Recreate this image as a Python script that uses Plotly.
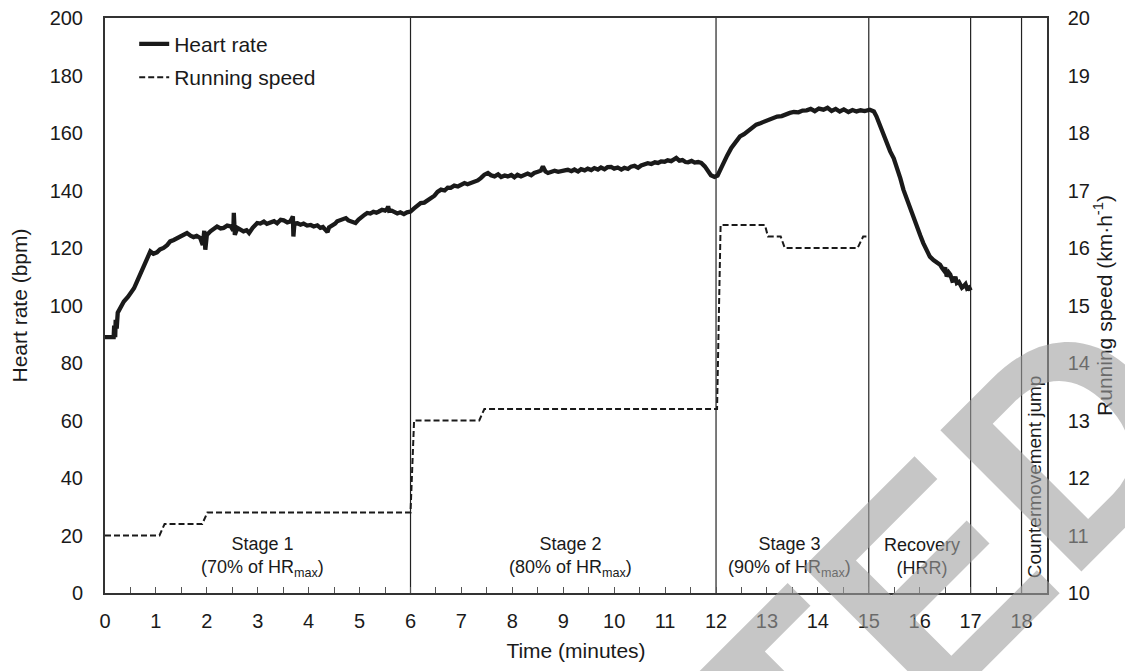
import plotly.graph_objects as go

# ---------------- data ----------------
hr_time = [0, 0.17, 0.18, 0.20, 0.21, 0.23, 0.25, 0.30, 0.37, 0.45, 0.50, 0.57, 0.63, 0.68, 0.73, 0.78,
           0.83, 0.89, 0.95, 1.02, 1.08, 1.15, 1.22, 1.28, 1.35, 1.42, 1.48, 1.55, 1.61, 1.68, 1.74, 1.80,
           1.87, 1.92, 1.95, 1.97, 2.00, 2.07, 2.13, 2.20, 2.27, 2.33, 2.40, 2.47, 2.52, 2.53, 2.55, 2.60,
           2.66, 2.72, 2.78, 2.83, 2.90, 2.99, 3.05, 3.12, 3.18, 3.25, 3.32, 3.38, 3.45, 3.51, 3.58, 3.64,
           3.69, 3.70, 3.72, 3.78, 3.84, 3.90, 3.97, 4.04, 4.10, 4.17, 4.23, 4.28, 4.33, 4.37, 4.40, 4.46,
           4.52, 4.56, 4.62, 4.68, 4.73, 4.78, 4.85, 4.92, 4.98, 5.04, 5.10, 5.15, 5.21, 5.27, 5.33, 5.38,
           5.44, 5.50, 5.55, 5.56, 5.58, 5.63, 5.68, 5.74, 5.80, 5.87, 5.93, 6.00, 6.07, 6.13, 6.20, 6.27,
           6.33, 6.40, 6.47, 6.53, 6.60, 6.67, 6.73, 6.79, 6.86, 6.93, 6.99, 7.06, 7.12, 7.19, 7.25, 7.32,
           7.38, 7.45, 7.52, 7.58, 7.65, 7.72, 7.78, 7.85, 7.91, 7.98, 8.04, 8.10, 8.17, 8.24, 8.30, 8.37,
           8.43, 8.50, 8.56, 8.60, 8.65, 8.70, 8.76, 8.83, 8.90, 8.96, 9.03, 9.09, 9.16, 9.22, 9.29, 9.35,
           9.42, 9.48, 9.55, 9.61, 9.68, 9.74, 9.81, 9.87, 9.94, 10.00, 10.07, 10.14, 10.20, 10.27, 10.33,
           10.40, 10.47, 10.53, 10.60, 10.66, 10.73, 10.80, 10.86, 10.92, 10.99, 11.05, 11.12, 11.18, 11.22,
           11.28, 11.34, 11.40, 11.45, 11.52, 11.58, 11.65, 11.71, 11.78, 11.84, 11.90, 11.97, 12.03, 12.10,
           12.16, 12.22, 12.30, 12.38, 12.47, 12.55, 12.63, 12.71, 12.79, 12.87, 12.95, 13.04, 13.12, 13.20,
           13.29, 13.37, 13.45, 13.53, 13.62, 13.70, 13.78, 13.86, 13.94, 14.02, 14.11, 14.19, 14.27, 14.35,
           14.43, 14.51, 14.60, 14.68, 14.76, 14.84, 14.92, 15.02, 15.10, 15.15, 15.22, 15.29, 15.36, 15.42,
           15.49, 15.55, 15.62, 15.68, 15.75, 15.81, 15.88, 15.94, 16.01, 16.07, 16.14, 16.20, 16.27, 16.33,
           16.40, 16.44, 16.47, 16.50, 16.53, 16.57, 16.60, 16.64, 16.67, 16.70, 16.73, 16.77, 16.80, 16.83,
           16.86, 16.90, 16.93, 16.97, 17.00]
heart_rate = [89, 89, 93, 89, 95, 92, 97.5, 99, 101.4, 103, 104.3, 106, 108.4, 110.5, 113, 115,
              117, 118.8, 118, 118.5, 119.5, 120, 121, 122.3, 122.8, 123.5, 124, 124.6, 125.2, 124.3, 123.8, 124.2,
              123.5, 121, 126, 119.4, 124.5, 125.8, 126.5, 127.5, 126.8, 127, 127.8, 127.5, 126, 132.2, 124.6, 127,
              126.4, 125.8, 126.2, 125.2, 127, 128.7, 128.5, 129.2, 128.4, 128.7, 129.3, 128.6, 129.8, 129.6, 128.9, 129.2,
              131, 124, 128.5, 128.6, 128.1, 128.5, 127.8, 128.0, 127.5, 127.9, 127.0, 127.3, 126.4, 125.5, 127.2, 127.8,
              128.5, 129.3, 129.8, 129.9, 130.4, 129.6, 129.2, 128.7, 129.9, 131, 131.6, 132.2, 132.0, 132.6, 132.3, 132.7,
              133.3, 133.0, 133.8, 134.5, 132.9, 133, 132.4, 132.0, 132.4, 131.8, 132.4, 132.7, 133.8, 134.5, 135.6, 135.8,
              136.6, 137.4, 138.2, 139.5, 140.3, 140.0, 141.0, 140.9, 141.7, 141.4, 142.0, 142.6, 142.2, 142.6, 143.2, 143.5,
              144.3, 145.5, 146.1, 145.3, 144.9, 145.6, 144.7, 145.2, 144.9, 145.4, 144.6, 145.5, 144.9, 145.6, 145.9, 145.3,
              146.1, 146.5, 146.9, 148.4, 146.6, 146.1, 146.3, 146.9, 146.5, 146.6, 147.0, 147.2, 146.7, 147.3, 146.6, 147.4,
              147.0, 147.6, 147.1, 147.8, 147.3, 148.0, 147.4, 148.1, 148.2, 147.6, 148.0, 147.3, 147.9, 147.5, 148.3,
              148.6, 147.9, 148.7, 149.0, 149.5, 149.2, 149.8, 149.6, 150.1, 150.0, 150.5, 150.2, 150.8, 151.3,
              150.4, 150.6, 149.9, 149.8, 150.3, 149.7, 149.9, 149.6, 148.4, 146.6, 145.3, 144.7, 145.2, 147.8,
              150.2, 152.2, 154.8, 156.9, 158.8, 159.6, 160.6, 161.9, 162.9, 163.4, 164.0, 164.6, 165.2, 165.7,
              165.9, 166.6, 167.0, 167.3, 167.2, 167.8, 167.9, 168.4, 167.6, 168.5, 168.1, 168.8, 167.7, 168.4,
              167.5, 168.2, 167.3, 168.0, 167.5, 167.9, 167.6, 168.1, 167.5, 165.8, 162.5, 158.8, 156.2, 153.6,
              151.2, 148.4, 144.2, 140.3, 136.8, 133.3, 130.1, 127.5, 124.4, 121.7, 119.2, 117.0, 115.8, 115.0,
              114.2, 113.0, 112.3, 113.2, 110.1, 111.5, 110.8, 108.6, 108.7, 110.0, 107.8, 108.2, 107.3, 106.2,
              106.6, 107.4, 105.9, 106.3, 105.2]

speed_time = [0, 1.07, 1.17, 1.91, 2.01, 6.0, 6.0, 6.07, 7.35, 7.45, 12.0, 12.02, 12.09, 12.96, 13.02,
              13.27, 13.35, 14.78, 14.89, 15.0]
running_speed = [11.0, 11.0, 11.2, 11.2, 11.4, 11.4, 11.4, 13.0, 13.0, 13.2, 13.2, 13.2, 16.4, 16.4, 16.2,
                 16.2, 16.0, 16.0, 16.2, 16.2]

stage_bounds = [6, 12, 15, 17, 18]
stage_label_x = [3.1, 9.15, 13.45, 16.05]
stage_labels = ["Stage 1<br>(70% of HR<sub>max</sub>)",
                "Stage 2<br>(80% of HR<sub>max</sub>)",
                "Stage 3<br>(90% of HR<sub>max</sub>)",
                "Recovery<br>(HRR)"]
cmj_label = "Countermovement jump"
cmj_x = 18.26
x_ticks = list(range(0, 19))
hr_ticks = list(range(0, 201, 20))
speed_ticks = list(range(10, 21))
watermark_text = "ACCEPTED"

FONT = "Liberation Sans, Arial, sans-serif"
INK = "#1a1a1a"
ML, MR, MT, MB = 105, 78, 18, 78
W, H = 1125, 671

fig = go.Figure()
fig.add_trace(go.Scatter(
    x=hr_time, y=heart_rate, mode="lines", name="Heart rate",
    line=dict(color=INK, width=4.3), legendgroup="a"))
fig.add_trace(go.Scatter(
    x=speed_time, y=running_speed, mode="lines", name="Running speed",
    line=dict(color=INK, width=2, dash="6px,3px"), yaxis="y2", legendgroup="b"))

for xb in stage_bounds:
    fig.add_shape(type="line", xref="x", yref="y", x0=xb, x1=xb, y0=0, y1=200,
                  line=dict(color="#222222", width=1.2), layer="below")

for xs, txt in zip(stage_label_x, stage_labels):
    fig.add_annotation(x=xs, y=12.6, xref="x", yref="y", text=txt, showarrow=False,
                       font=dict(family=FONT, size=18, color=INK), align="center")

fig.add_annotation(x=cmj_x, y=40.5, xref="x", yref="y", text=cmj_label, showarrow=False,
                   textangle=-90, font=dict(family=FONT, size=19, color=INK))

# watermark (centre given in pixels, converted to paper coordinates)
wx, wy = 580, 930
plot_w = W - ML - MR
plot_h = H - MT - MB
fig.add_annotation(x=(wx - ML) / plot_w, y=(H - MB - wy) / plot_h, xref="paper", yref="paper",
                   xanchor="center", yanchor="middle",
                   text="<b>" + watermark_text + "</b>", showarrow=False, textangle=-45,
                   font=dict(family=FONT, size=290, color="rgba(160,160,160,0.6)"))

fig.update_layout(
    width=W, height=H,
    margin=dict(l=ML, r=MR, t=MT, b=MB, autoexpand=False),
    paper_bgcolor="white", plot_bgcolor="white",
    font=dict(family=FONT, size=20, color=INK),
    showlegend=True,
    legend=dict(x=0.031, y=0.99, xanchor="left", yanchor="top", bgcolor="rgba(0,0,0,0)",
                font=dict(family=FONT, size=21, color=INK), traceorder="grouped",
                tracegroupgap=3, itemwidth=30),
    xaxis=dict(range=[0, 18.5], tickvals=x_ticks, ticks="inside", ticklen=6, tickcolor="#555",
               tickwidth=1, minor=dict(dtick=0.5, ticks="inside", ticklen=6, tickcolor="#555"),
               showline=True, linecolor="#333", linewidth=2, mirror=True, showgrid=False,
               zeroline=False, tickfont=dict(size=20), ticklabelstandoff=9,
               title=dict(text="Time (minutes)", font=dict(size=21), standoff=12)),
    yaxis=dict(range=[0, 200], tickvals=hr_ticks, showline=True, linecolor="#333", linewidth=2,
               showgrid=False, zeroline=False, ticks="", ticklabelstandoff=16,
               tickfont=dict(size=20),
               title=dict(text="Heart rate (bpm)", font=dict(size=21), standoff=16)),
    yaxis2=dict(range=[10, 20], tickvals=speed_ticks, overlaying="y", side="right",
                showline=True, linecolor="#333", linewidth=1.5, showgrid=False, zeroline=False,
                ticks="", ticklabelstandoff=15, tickfont=dict(size=20),
                title=dict(text="Running speed (km·h<sup>-1</sup>)", font=dict(size=21), standoff=8)),
)

fig.write_html("out.html", config={"displayModeBar": False},
               post_script="document.body.style.margin='0';")
